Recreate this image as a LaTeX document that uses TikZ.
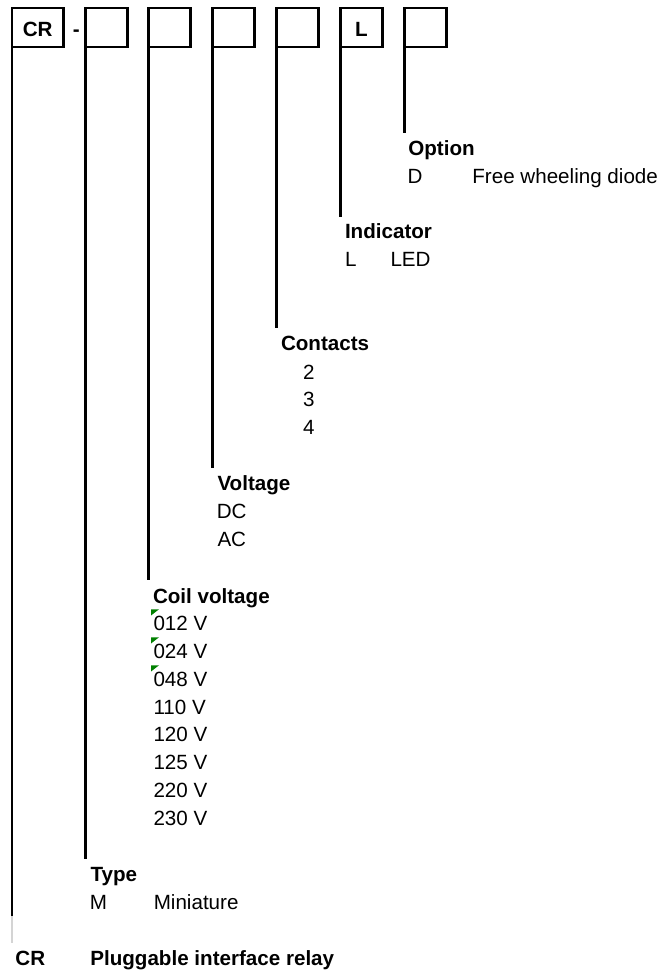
\documentclass[tikz,border=0pt]{standalone}
\usepackage{fontspec}
\setmainfont{Liberation Sans}
\begin{document}
\begin{tikzpicture}[x=1pt,y=-1pt,
  every node/.style={font=\fontsize{20.6}{24}\selectfont},
  box/.style={draw,line width=2.8pt,rectangle,inner sep=0pt,outer sep=0pt,
    minimum width=42pt,minimum height=39pt,text height=18.4pt,text depth=0pt,
    font=\fontsize{20.6}{24}\selectfont\bfseries},
  lead/.style={line width=2.2pt},
  faded/.style={line width=2.2pt,draw={rgb,255:red,212;green,212;blue,212}},
  lbl/.style={anchor=base west,inner sep=0pt,outer sep=0pt},
  head/.style={lbl,font=\fontsize{20.6}{24}\selectfont\bfseries},
  marker/.style={fill={rgb,255:red,0;green,128;blue,0}}]
\useasboundingbox (0,0) rectangle (662,974);
% code boxes
\node[box,minimum width=51.5pt] (b1) at (37.75,27.5) {CR};
\node[anchor=base,inner sep=0pt,font=\fontsize{20.6}{24}\selectfont\bfseries] (dash) at (76.3,36.7) {-};
\node[box] (b2) at (106.5,27.5) {};
\node[box] (b3) at (169.5,27.5) {};
\node[box] (b4) at (233.5,27.5) {};
\node[box] (b5) at (297.5,27.5) {};
\node[box] (b6) at (361.5,27.5) {L};
\node[box] (b7) at (425.5,27.5) {};
% lead ends
\coordinate (e7) at (404.5,132.7);
\coordinate (e6) at (340.5,216.7);
\coordinate (e5) at (276.5,328.3);
\coordinate (e4) at (212.5,468);
\coordinate (e3) at (148.5,580);
\coordinate (e2) at (85.5,859);
\coordinate (e1) at (12,916);
\coordinate (g1) at (12,942.7);
\draw[lead] (b7.south west) -- (e7);
\draw[lead] (b6.south west) -- (e6);
\draw[lead] (b5.south west) -- (e5);
\draw[lead] (b4.south west) -- (e4);
\draw[lead] (b3.south west) -- (e3);
\draw[lead] (b2.south west) -- (e2);
\draw[lead] (b1.south west) -- (e1);
\draw[faded] (e1) -- (g1);
% Option
\node[head] (hopt) at (408.3,155) {Option};
\node[lbl] (optD) at (407.5,183.3) {D};
\node[lbl] (optDt) at (472.4,183.3) {Free wheeling diode};
% Indicator
\node[head] (hind) at (345,238.3) {Indicator};
\node[lbl] (indL) at (345,266.7) {L};
\node[lbl] (indLt) at (390.5,266.7) {LED};
% Contacts
\node[head] (hcon) at (281,350.7) {Contacts};
\node[lbl] (con2) at (303,379) {2};
\node[lbl] (con3) at (303,406.7) {3};
\node[lbl] (con4) at (303,434.5) {4};
% Voltage
\node[head] (hvol) at (217.5,490) {Voltage};
\node[lbl] (volDC) at (216.8,518) {DC};
\node[lbl] (volAC) at (217.5,546) {AC};
% Coil voltage
\node[head] (hcoil) at (153,603) {Coil voltage};
\node[lbl] (c012) at (153.5,630.7) {012 V};
\node[lbl] (c024) at (153.5,658.5) {024 V};
\node[lbl] (c048) at (153.5,686.3) {048 V};
\node[lbl] (c110) at (153.5,714.1) {110 V};
\node[lbl] (c120) at (153.5,741.9) {120 V};
\node[lbl] (c125) at (153.5,769.7) {125 V};
\node[lbl] (c220) at (153.5,797.5) {220 V};
\node[lbl] (c230) at (153.5,825.3) {230 V};
\fill[marker] (151,609.3) -- (159,609.3) -- (151,615.5) -- cycle;
\fill[marker] (151,637.3) -- (159,637.3) -- (151,643.5) -- cycle;
\fill[marker] (151,665.3) -- (159,665.3) -- (151,671.5) -- cycle;
% Type
\node[head] (htyp) at (90.5,881.7) {Type};
\node[lbl] (typM) at (89.8,909.5) {M};
\node[lbl] (typMt) at (153.8,909.5) {Miniature};
% CR
\node[head] (crc) at (15.5,965) {CR};
\node[head] (crt) at (90.3,965) {Pluggable interface relay};
\end{tikzpicture}
\end{document}
